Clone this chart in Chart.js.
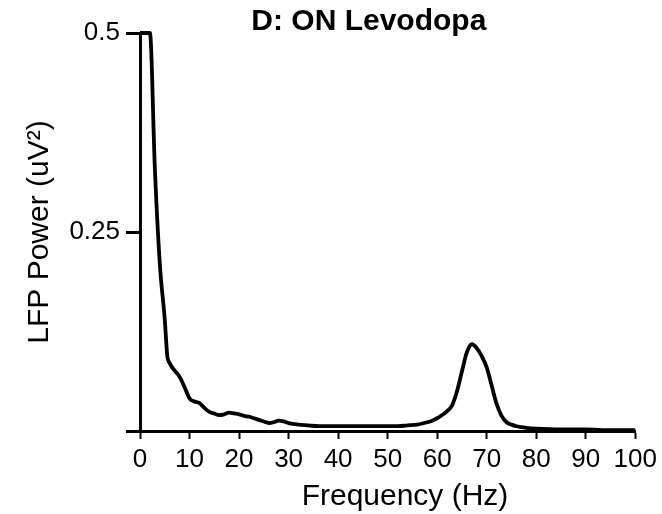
<!DOCTYPE html>
<html>
<head>
<meta charset="utf-8">
<script src="https://cdn.jsdelivr.net/npm/chart.js@4.4.1/dist/chart.umd.min.js"></script>
<style>
html,body{margin:0;padding:0;background:#fff;}
#wrap{width:662px;height:514px;position:relative;}
</style>
</head>
<body>
<div id="wrap"><canvas id="c" width="662" height="514"></canvas></div>
<script>
const titleText = 'D: ON Levodopa';
const xTitleText = 'Frequency (Hz)';
const yTitleText = 'LFP Power (uV²)';

const frequency = [0, 1, 2, 3, 4, 5, 5.5, 6, 7, 8, 9, 10, 11, 12, 13, 14, 15, 16, 17, 18, 19, 20,
  21, 22, 23, 24, 25, 26, 27, 28, 29, 30, 32, 34, 36, 38, 40, 42, 44, 46, 48, 50, 52, 54, 56, 58,
  59, 60, 61, 62, 63, 64, 65, 66, 67, 68, 69, 70, 71, 72, 73, 74, 75, 76, 77, 78, 80, 85, 90, 95, 100];
const power = [0.5, 0.5, 0.5, 0.33, 0.21, 0.14, 0.095, 0.085, 0.076, 0.068, 0.055, 0.041, 0.037, 0.035, 0.029, 0.024, 0.022, 0.020, 0.021, 0.023, 0.022, 0.021,
  0.019, 0.018, 0.016, 0.014, 0.012, 0.010, 0.011, 0.013, 0.012, 0.010, 0.008, 0.007, 0.006, 0.006, 0.006, 0.006, 0.006, 0.006, 0.006, 0.006, 0.006, 0.007, 0.008, 0.011,
  0.013, 0.016, 0.020, 0.025, 0.032, 0.050, 0.075, 0.099, 0.109, 0.104, 0.094, 0.080, 0.057, 0.034, 0.019, 0.011, 0.008, 0.006, 0.005, 0.004, 0.003, 0.002, 0.002, 0.001, 0.001];

const xTicks = [0, 10, 20, 30, 40, 50, 60, 70, 80, 90, 100];
const yTicks = [0, 0.25, 0.5];
const yTickLabels = ['', '0.25', '0.5'];

const FONT = '"Liberation Sans", Arial, Helvetica, sans-serif';

const textPlugin = {
  id: 'panelTexts',
  afterDraw(chart) {
    const {ctx, chartArea} = chart;
    const w = chartArea.right - chartArea.left;
    ctx.save();
    ctx.fillStyle = '#000';
    ctx.textAlign = 'center';
    ctx.textBaseline = 'middle';
    ctx.font = 'bold 30px ' + FONT;
    ctx.fillText(titleText, chartArea.left + w * 0.462, 22);
    ctx.font = '30px ' + FONT;
    ctx.fillText(xTitleText, chartArea.left + w * 0.535, 497);
    ctx.restore();
  }
};

new Chart(document.getElementById('c'), {
  type: 'line',
  data: {
    datasets: [{
      data: frequency.map((f, i) => ({x: f, y: power[i]})),
      borderColor: '#000',
      borderWidth: 3.8,
      pointRadius: 0,
      fill: false,
      clip: 4,
      cubicInterpolationMode: 'monotone'
    }]
  },
  options: {
    responsive: false,
    animation: false,
    layout: {padding: {top: 33, right: 26, left: 0, bottom: 0}},
    plugins: {legend: {display: false}, tooltip: {enabled: false}, title: {display: false}},
    scales: {
      x: {
        type: 'linear',
        min: 0, max: 100,
        afterFit: s => { s.height = 83; },
        afterBuildTicks: s => { s.ticks = xTicks.map(v => ({value: v})); },
        border: {display: true, color: '#000', width: 3},
        grid: {display: true, drawOnChartArea: false, drawTicks: true, tickLength: 8, tickWidth: 2, tickColor: '#000'},
        ticks: {color: '#000', font: {family: FONT, size: 26}, padding: 5, maxRotation: 0, autoSkip: false}
      },
      y: {
        min: 0, max: 0.5,
        afterFit: s => { s.width = 140; },
        afterBuildTicks: s => { s.ticks = yTicks.map(v => ({value: v})); },
        border: {display: true, color: '#000', width: 3},
        grid: {display: true, drawOnChartArea: false, drawTicks: true, tickLength: 14, tickWidth: 3, tickColor: '#000'},
        ticks: {color: '#000', font: {family: FONT, size: 26}, padding: 6, autoSkip: false,
          callback: v => yTickLabels[yTicks.indexOf(v)]},
        title: {display: true, text: yTitleText, color: '#000', font: {family: FONT, size: 30}, padding: {top: 22, bottom: 0}}
      }
    }
  },
  plugins: [textPlugin]
});
</script>
</body>
</html>
